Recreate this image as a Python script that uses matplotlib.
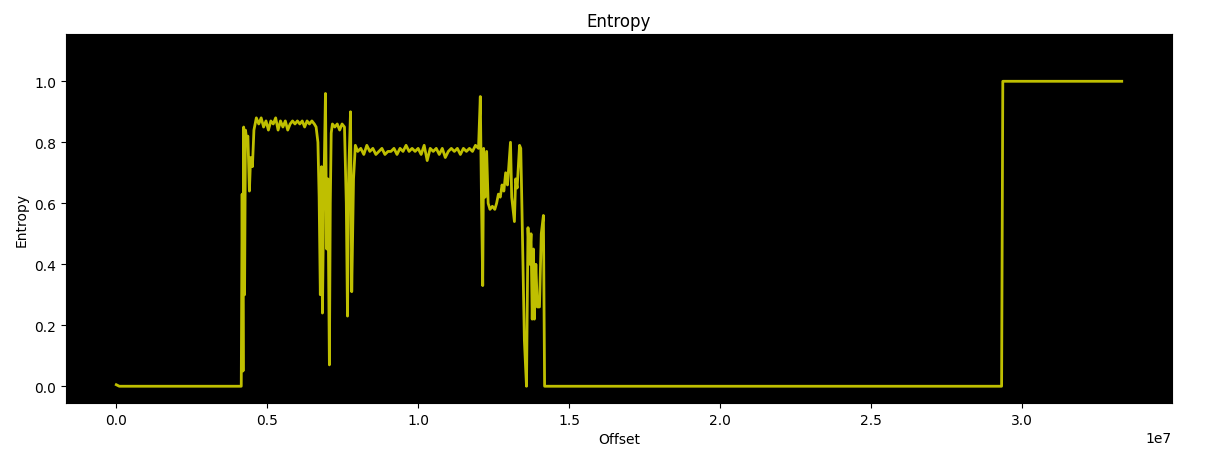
import matplotlib
matplotlib.use("Agg")
import matplotlib.pyplot as plt
import numpy as np

# Offsets (in units of 1e6 bytes) and entropy values
offset_mb = [
    0.0, 0.1, 4.14, 4.17, 4.20, 4.22, 4.25, 4.28, 4.32, 4.36, 4.41, 4.45, 4.51, 4.56, 4.60, 4.64,
    4.72, 4.80, 4.88, 4.96, 5.04, 5.12, 5.20, 5.28, 5.36, 5.44, 5.52, 5.60, 5.68, 5.76, 5.84,
    5.92, 6.00, 6.08, 6.16, 6.24, 6.32, 6.40, 6.48, 6.56, 6.62,
    6.68, 6.72, 6.76, 6.80, 6.83, 6.87, 6.93, 6.97, 7.01, 7.06, 7.09, 7.12, 7.16, 7.24, 7.32,
    7.40, 7.48, 7.56, 7.62, 7.66, 7.70, 7.76, 7.80, 7.86, 7.92,
    8.0, 8.1, 8.2, 8.3, 8.4, 8.5, 8.6, 8.7, 8.8, 8.9, 9.0, 9.1, 9.2, 9.3, 9.4, 9.5, 9.6, 9.7,
    9.8, 9.9, 10.0, 10.1, 10.2, 10.3, 10.4, 10.5, 10.6, 10.7, 10.8, 10.9, 11.0, 11.1, 11.2,
    11.3, 11.4, 11.5, 11.6, 11.7, 11.8, 11.9, 12.0,
    12.06, 12.10, 12.14, 12.17, 12.22, 12.27, 12.32, 12.38, 12.46, 12.54, 12.60, 12.66, 12.72,
    12.78, 12.84, 12.90, 12.96, 13.06, 13.10, 13.19, 13.23, 13.28, 13.36, 13.40, 13.44, 13.52,
    13.59, 13.64, 13.69, 13.74, 13.78, 13.82, 13.85, 13.90, 13.95, 14.02, 14.08, 14.15, 14.19,
    29.33, 29.37, 33.31,
]
entropy = [
    0.005, 0.0, 0.0, 0.63, 0.05, 0.85, 0.30, 0.84, 0.81, 0.82, 0.64, 0.75, 0.72, 0.84, 0.86, 0.88,
    0.86, 0.88, 0.85, 0.87, 0.84, 0.87, 0.86, 0.88, 0.84, 0.87, 0.85, 0.87, 0.84, 0.86, 0.87,
    0.86, 0.87, 0.86, 0.87, 0.85, 0.87, 0.86, 0.87, 0.86, 0.85,
    0.80, 0.62, 0.30, 0.72, 0.24, 0.60, 0.96, 0.45, 0.68, 0.07, 0.60, 0.83, 0.86, 0.85, 0.86,
    0.84, 0.86, 0.85, 0.60, 0.23, 0.70, 0.90, 0.31, 0.68, 0.79,
    0.77, 0.78, 0.76, 0.79, 0.77, 0.78, 0.76, 0.77, 0.78, 0.76, 0.77, 0.77, 0.78, 0.76, 0.78,
    0.77, 0.79, 0.77, 0.78, 0.77, 0.78, 0.76, 0.79, 0.74, 0.78, 0.77, 0.78, 0.76, 0.78, 0.75,
    0.77, 0.78, 0.77, 0.78, 0.76, 0.78, 0.77, 0.78, 0.77, 0.79, 0.78,
    0.95, 0.60, 0.33, 0.78, 0.62, 0.77, 0.60, 0.58, 0.59, 0.58, 0.60, 0.63, 0.62,
    0.66, 0.64, 0.70, 0.66, 0.80, 0.62, 0.54, 0.68, 0.65, 0.79, 0.78, 0.58, 0.15,
    0.00, 0.52, 0.40, 0.50, 0.22, 0.45, 0.22, 0.40, 0.26, 0.26, 0.50, 0.56, 0.00,
    0.0, 1.0, 1.0,
]

offsets = np.array(offset_mb) * 1e6

fig = plt.figure(figsize=(12.09, 4.6), dpi=100)
ax = fig.add_axes([0.0546, 0.1217, 0.9148, 0.8022])
ax.set_facecolor('black')
ax.plot(offsets, entropy, color='y', linewidth=2)
ax.set_ylim(-0.055, 1.155)
ax.set_title('Entropy')
ax.set_xlabel('Offset')
ax.set_ylabel('Entropy')

fig.savefig('out.png', dpi=100)
